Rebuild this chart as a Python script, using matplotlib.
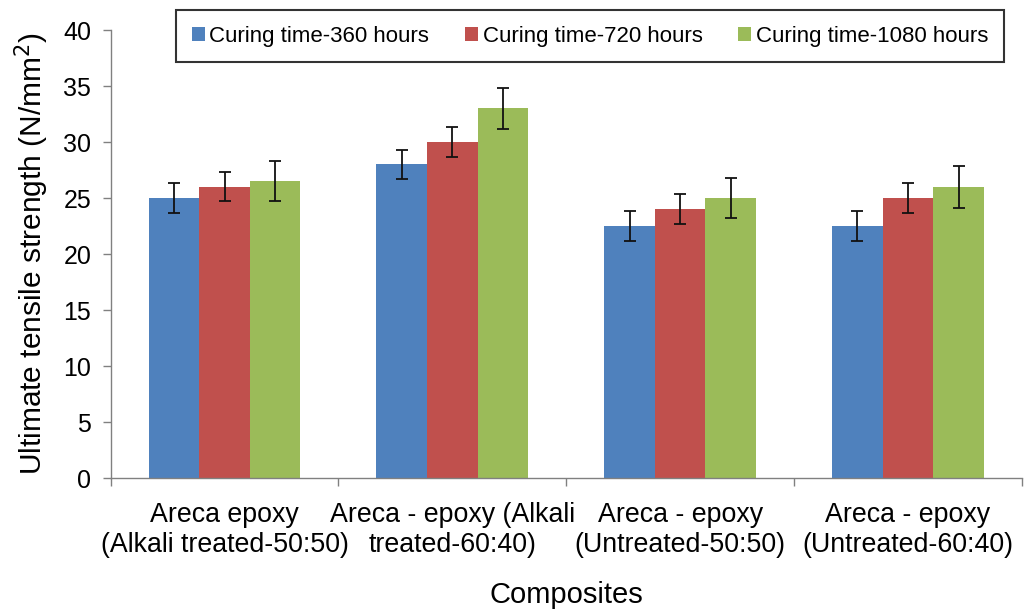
import numpy as np
import matplotlib.pyplot as plt

plt.rcParams['font.family'] = ['Liberation Sans', 'DejaVu Sans']

composites = ['Areca epoxy\n(Alkali treated-50:50)',
              'Areca - epoxy (Alkali\ntreated-60:40)',
              'Areca - epoxy\n(Untreated-50:50)',
              'Areca - epoxy\n(Untreated-60:40)']
series_names = ['Curing time-360 hours', 'Curing time-720 hours', 'Curing time-1080 hours']
uts_360 = [25.0, 28.0, 22.5, 22.5]
uts_720 = [26.0, 30.0, 24.0, 25.0]
uts_1080 = [26.5, 33.0, 25.0, 26.0]
err_360 = [1.3, 1.3, 1.3, 1.3]
err_720 = [1.3, 1.35, 1.35, 1.3]
err_1080 = [1.8, 1.8, 1.8, 1.85]
colors = ['#4F81BD', '#C0504D', '#9BBB59']

fig = plt.figure(figsize=(10.24, 6.13), dpi=100)
ax = fig.add_axes([0.108, 0.2202, 0.89, 0.7308])

x = np.arange(len(composites))
w = 0.222
for i, (vals, errs) in enumerate(zip([uts_360, uts_720, uts_1080],
                                     [err_360, err_720, err_1080])):
    ax.bar(x + (i - 1) * w, vals, w, color=colors[i], label=series_names[i],
           yerr=errs, capsize=4,
           error_kw=dict(ecolor='#111111', elinewidth=1.3, capthick=1.3))

ax.set_xlim(-0.5, len(composites) - 0.5)
ax.set_ylim(0, 40)
ax.set_yticks(np.arange(0, 41, 5))
ax.set_xticks(x)
ax.set_xticklabels(composites, fontsize=19.3, linespacing=1.2)
ax.set_xticks(np.arange(-0.5, len(composites)), minor=True)
ax.tick_params(axis='x', which='major', length=0, pad=17)
ax.tick_params(axis='x', which='minor', length=6, color='#808080', width=1)
ax.tick_params(axis='y', labelsize=18, length=6, color='#808080', width=1, pad=8)

for s in ['top', 'right']:
    ax.spines[s].set_visible(False)
for s in ['left', 'bottom']:
    ax.spines[s].set_color('#808080')
    ax.spines[s].set_linewidth(1)

ax.set_ylabel('Ultimate tensile strength (N/mm$^2$)', fontsize=21.5, labelpad=9)
ax.set_xlabel('Composites', fontsize=21, labelpad=17)

leg = fig.legend(loc='upper left', bbox_to_anchor=(176 / 1024, 1 - 10 / 613),
                 ncol=3, fontsize=16, frameon=True, fancybox=False,
                 handlelength=0.6, handleheight=0.6, handletextpad=0.2,
                 columnspacing=1.6, borderpad=0.7, borderaxespad=0)
leg.get_frame().set_edgecolor('black')
leg.get_frame().set_linewidth(1.5)

fig.savefig('out.png', dpi=100)
